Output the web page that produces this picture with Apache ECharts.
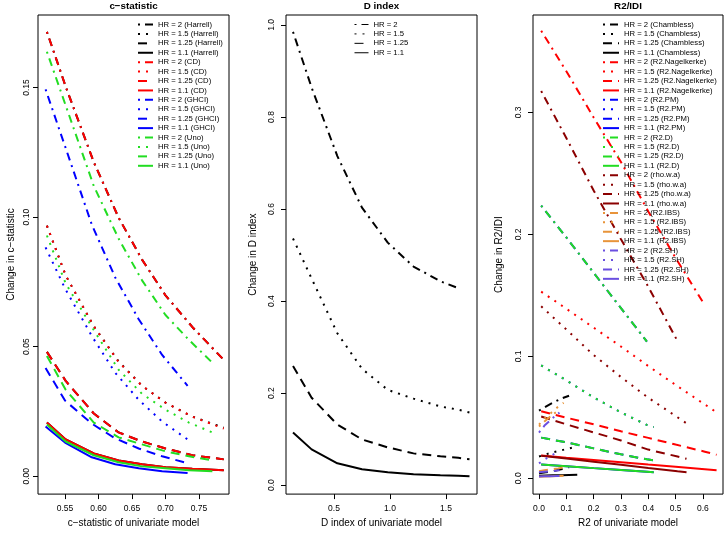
<!DOCTYPE html>
<html><head><meta charset="utf-8">
<script src="https://cdn.jsdelivr.net/npm/echarts@6/dist/echarts.min.js"></script>
<style>html,body{margin:0;padding:0;background:#fff}#c{width:724px;height:533px}</style>
</head><body><div id="c"></div>
<script>
// ---------- Panel 1: c-statistic ----------
const cX_Harrell = [0.523, 0.551, 0.593, 0.63, 0.665, 0.70, 0.74, 0.787];
const harrell2   = [0.1715, 0.1504, 0.1212, 0.0998, 0.0836, 0.0698, 0.0576, 0.0449];
const harrell15  = [0.0967, 0.0775, 0.0579, 0.0443, 0.0349, 0.0284, 0.0230, 0.0187];
const harrell125 = [0.0480, 0.0368, 0.0242, 0.0169, 0.0134, 0.0107, 0.0081, 0.0065];
const harrell11  = [0.0207, 0.0142, 0.0088, 0.0061, 0.0046, 0.0035, 0.0029, 0.0023];
const cX_CD = [0.523, 0.551, 0.593, 0.63, 0.665, 0.70, 0.74, 0.787];
const cd2   = [0.1715, 0.1504, 0.1212, 0.0998, 0.0836, 0.0698, 0.0576, 0.0449];
const cd15  = [0.0967, 0.0775, 0.0579, 0.0441, 0.0349, 0.0284, 0.0230, 0.0184];
const cd125 = [0.0480, 0.0368, 0.0242, 0.0169, 0.0134, 0.0107, 0.0081, 0.0065];
const cd11  = [0.0207, 0.0142, 0.0088, 0.0061, 0.0046, 0.0035, 0.0029, 0.0023];
const cX_GHCI = [0.521, 0.55, 0.59, 0.625, 0.66, 0.695, 0.733];
const ghci2   = [0.1493, 0.1274, 0.0971, 0.0767, 0.0606, 0.0468, 0.0349];
const ghci15  = [0.0883, 0.0725, 0.0541, 0.0399, 0.0295, 0.0211, 0.0142];
const ghci125 = [0.0418, 0.0292, 0.0203, 0.0146, 0.0107, 0.0077, 0.0050];
const ghci11  = [0.0192, 0.0130, 0.0073, 0.0046, 0.0031, 0.0019, 0.0012];
const cX_Uno = [0.523, 0.551, 0.593, 0.63, 0.665, 0.70, 0.735, 0.77];
const uno2   = [0.1638, 0.1431, 0.1120, 0.0917, 0.0756, 0.0622, 0.0526, 0.0438];
const uno15  = [0.0929, 0.0744, 0.0564, 0.0411, 0.0318, 0.0257, 0.0207, 0.0169];
const uno125 = [0.0464, 0.0334, 0.0207, 0.0150, 0.0123, 0.0096, 0.0077, 0.0061];
const uno11  = [0.0200, 0.0134, 0.0081, 0.0054, 0.0038, 0.0031, 0.0023, 0.0019];
const p1XTicks = [0.55, 0.60, 0.65, 0.70, 0.75];
const p1YTicks = [0.00, 0.05, 0.10, 0.15];

// ---------- Panel 2: D index ----------
const dX   = [0.134, 0.30, 0.53, 0.75, 0.98, 1.21, 1.45, 1.61, 1.71];
const dHR2   = [0.985, 0.864, 0.715, 0.603, 0.527, 0.475, 0.443, 0.428, null];
const dHR15  = [0.536, 0.449, 0.330, 0.253, 0.207, 0.188, 0.171, 0.164, 0.158];
const dHR125 = [0.259, 0.190, 0.1318, 0.0994, 0.0821, 0.0691, 0.0626, 0.0594, 0.0562];
const dHR11  = [0.1145, 0.0778, 0.0475, 0.0346, 0.0281, 0.0238, 0.0216, 0.0205, 0.0194];
const p2XTicks = [0.5, 1.0, 1.5];
const p2YTicks = [0.0, 0.2, 0.4, 0.6, 0.8, 1.0];

// ---------- Panel 3: R2/IDI ----------
const rX_Cham = [0.0, 0.025, 0.05, 0.08, 0.11, 0.14];
const cham2   = [0.0554, 0.0587, 0.0619, 0.0652, 0.0677, null];
const cham15  = [0.0179, 0.0196, 0.0212, 0.0228, 0.0245, 0.0261];
const cham125 = [0.0041, 0.0049, 0.0057, 0.0073, 0.0090, null];
const cham11  = [0.0020, 0.0022, 0.0024, 0.0024, 0.0026, 0.0028];
const rX_Nag = [0.008, 0.1, 0.2, 0.3, 0.4, 0.5, 0.607, 0.65];
const nag2   = [0.367, 0.3338, 0.2958, 0.2593, 0.2188, 0.1807, 0.1418, null];
const nag15  = [0.153, 0.139, 0.1235, 0.108, 0.092, 0.0765, 0.0605, 0.054];
const nag125 = [0.0549, 0.0497, 0.0442, 0.0385, 0.0331, 0.0276, 0.0218, 0.0192];
const nag11  = [0.0186, 0.0168, 0.0150, 0.0131, 0.0112, 0.0094, 0.0074, 0.0066];
const rX_PM = [0.008, 0.1, 0.2, 0.3, 0.395, 0.42];
const pm2   = [0.2236, 0.1975, 0.1685, 0.1395, 0.1120, null];
const pm15  = [0.0925, 0.0803, 0.0663, 0.0540, 0.0437, 0.0420];
const pm125 = [0.0333, 0.0294, 0.0245, 0.0196, 0.0155, 0.0147];
const pm11  = [0.0113, 0.0099, 0.0083, 0.0068, 0.0053, 0.0049];
const rX_D = [0.008, 0.1, 0.2, 0.3, 0.395, 0.42];
const rd2   = [0.2236, 0.1975, 0.1685, 0.1395, 0.1120, null];
const rd15  = [0.0925, 0.0803, 0.0663, 0.0540, 0.0437, 0.0420];
const rd125 = [0.0333, 0.0294, 0.0245, 0.0196, 0.0155, 0.0147];
const rd11  = [0.0113, 0.0099, 0.0083, 0.0068, 0.0053, 0.0049];
const rX_Rho = [0.008, 0.1, 0.2, 0.3, 0.4, 0.507, 0.54];
const rho2   = [0.3175, 0.279, 0.236, 0.196, 0.157, 0.1125, null];
const rho15  = [0.141, 0.122, 0.101, 0.083, 0.066, 0.050, 0.045];
const rho125 = [0.0506, 0.0442, 0.0376, 0.0310, 0.0235, 0.0178, 0.0160];
const rho11  = [0.0185, 0.0162, 0.0136, 0.0111, 0.0085, 0.0058, 0.0050];
const rX_IBS = [0.0, 0.02, 0.045, 0.07, 0.09];
const ibs2   = [0.0424, 0.0465, 0.0513, 0.0554, null];
const ibs15  = [0.0440, 0.0489, 0.0538, 0.0587, 0.0619];
const ibs125 = [0.0057, 0.0065, 0.0073, 0.0081, 0.0090];
const ibs11  = [0.0012, 0.0014, 0.0016, 0.0019, 0.0020];
const rX_SH = [0.0, 0.02, 0.04, 0.06, 0.075];
const sh2   = [0.0375, 0.0432, 0.0473, 0.0513, 0.0538];
const sh15  = [0.0122, 0.0155, 0.0179, 0.0204, 0.0220];
const sh125 = [0.0049, 0.0053, 0.0057, 0.0061, 0.0065];
const sh11  = [0.0015, 0.0016, 0.0017, 0.0018, 0.0019];
const p3XTicks = [0.0, 0.1, 0.2, 0.3, 0.4, 0.5, 0.6];
const p3YTicks = [0.0, 0.1, 0.2, 0.3];

const hrNames = ['2', '1.5', '1.25', '1.1'];

// ---------- styles ----------
const FONT = 'Liberation Sans, Arial, Helvetica, sans-serif';
const DASH = [[2, 5, 8, 5], [2, 6], [9, 6], 'solid'];

function mk(name, xs, ys, color, styleIdx, gi) {
  return {
    name, type: 'line', xAxisIndex: gi, yAxisIndex: gi,
    data: xs.map((x, i) => [x, ys[i]]),
    symbol: 'none', showSymbol: false, silent: true, animation: false,
    lineStyle: { color, width: 2, type: DASH[styleIdx], cap: 'butt' },
    itemStyle: { color },
    emphasis: { disabled: true }
  };
}

const series = [];
const leg1 = [], leg2 = [], leg3 = [];
function group(label, color, xs, arrs, gi, legArr, fmt) {
  arrs.forEach((ys, k) => {
    const nm = fmt(hrNames[k], label);
    series.push(mk(nm, xs, ys, color, k, gi));
    legArr.push(nm);
  });
}
const f = (hr, lab) => 'HR = ' + hr + ' (' + lab + ')';
group('Harrell', '#000000', cX_Harrell, [harrell2, harrell15, harrell125, harrell11], 0, leg1, f);
group('CD', '#FF0000', cX_CD, [cd2, cd15, cd125, cd11], 0, leg1, f);
group('GHCI', '#0000FF', cX_GHCI, [ghci2, ghci15, ghci125, ghci11], 0, leg1, f);
group('Uno', '#22DD22', cX_Uno, [uno2, uno15, uno125, uno11], 0, leg1, f);
group('', '#000000', dX, [dHR2, dHR15, dHR125, dHR11], 1, leg2, (hr) => 'HR = ' + hr);
group('Chambless', '#000000', rX_Cham, [cham2, cham15, cham125, cham11], 2, leg3, f);
group('R2.Nagelkerke', '#FF0000', rX_Nag, [nag2, nag15, nag125, nag11], 2, leg3, f);
group('R2.PM', '#0000FF', rX_PM, [pm2, pm15, pm125, pm11], 2, leg3, f);
group('R2.D', '#22DD22', rX_D, [rd2, rd15, rd125, rd11], 2, leg3, f);
group('rho.w.a', '#8B0000', rX_Rho, [rho2, rho15, rho125, rho11], 2, leg3, f);
group('R2.IBS', '#E8943A', rX_IBS, [ibs2, ibs15, ibs125, ibs11], 2, leg3, f);
group('R2.SH', '#6A4FE0', rX_SH, [sh2, sh15, sh125, sh11], 2, leg3, f);

const grids = [
  { left: 38, top: 15, width: 191, height: 482 },
  { left: 286, top: 15, width: 191, height: 482 },
  { left: 533, top: 15, width: 190, height: 482 }
].map(g => Object.assign(g, { show: true, borderColor: '#000', borderWidth: 1, backgroundColor: 'transparent', containLabel: false }));

function xAx(gi, min, max, ticks, dec, name) {
  return {
    type: 'value', gridIndex: gi, min, max, position: 'bottom',
    axisLine: { show: false, onZero: false },
    axisTick: { show: true, inside: false, length: 5, customValues: ticks, lineStyle: { color: '#000' } },
    axisLabel: { customValues: ticks, formatter: v => v.toFixed(dec), fontSize: 8.5, color: '#000', fontFamily: FONT, margin: 10 },
    splitLine: { show: false },
    name, nameLocation: 'middle', nameGap: 23,
    nameTextStyle: { fontSize: 10, color: '#000', fontFamily: FONT }
  };
}
function yAx(gi, min, max, ticks, dec, name, lm, ng) {
  return {
    type: 'value', gridIndex: gi, min, max, position: 'left',
    axisLine: { show: false, onZero: false },
    axisTick: { show: true, inside: false, length: 5, customValues: ticks, lineStyle: { color: '#000' } },
    axisLabel: { customValues: ticks, formatter: v => v.toFixed(dec), fontSize: 8.5, color: '#000', fontFamily: FONT, rotate: 90, margin: lm },
    splitLine: { show: false },
    name, nameLocation: 'middle', nameGap: ng, nameRotate: 90,
    nameTextStyle: { fontSize: 10, color: '#000', fontFamily: FONT }
  };
}

function legend(data, left, iw, lw) {
  return {
    data, orient: 'vertical', left, top: 20.5, padding: 0,
    itemWidth: iw, itemHeight: 7, itemGap: 1.42, selectedMode: false,
    itemStyle: { opacity: 0 },
    lineStyle: lw ? { width: lw } : {},
    textStyle: { fontSize: 7.7, color: '#000', fontFamily: FONT }
  };
}

const titleStyle = { fontSize: 9.8, fontWeight: 'bold', color: '#000', fontFamily: FONT };
const option = {
  animation: false,
  backgroundColor: '#fff',
  title: [
    { text: 'c\u2212statistic', left: 133.5, top: 1.5, textAlign: 'center', padding: 0, textStyle: titleStyle },
    { text: 'D index', left: 381.5, top: 1.5, textAlign: 'center', padding: 0, textStyle: titleStyle },
    { text: 'R2/IDI', left: 628, top: 1.5, textAlign: 'center', padding: 0, textStyle: titleStyle }
  ],
  grid: grids,
  xAxis: [
    xAx(0, 0.5097, 0.7948, p1XTicks, 2, 'c\u2212statistic of univariate model'),
    xAx(1, 0.0714, 1.777, p2XTicks, 1, 'D index of univariate model'),
    xAx(2, -0.022, 0.6735, p3XTicks, 1, 'R2 of univariate model')
  ],
  yAxis: [
    yAx(0, -0.0069, 0.178, p1YTicks, 2, 'Change in c\u2212statistic', 7, 22),
    yAx(1, -0.0194, 1.0216, p2YTicks, 1, 'Change in D index', 9.5, 28),
    yAx(2, -0.013, 0.3799, p3YTicks, 1, 'Change in R2/IDI', 9.5, 29)
  ],
  legend: [legend(leg1, 137, 15), legend(leg2, 354, 14, 1), legend(leg3, 602, 16)],
  series
};
const chart = echarts.init(document.getElementById('c'), null, { renderer: 'canvas' });
chart.setOption(option);
</script></body></html>
